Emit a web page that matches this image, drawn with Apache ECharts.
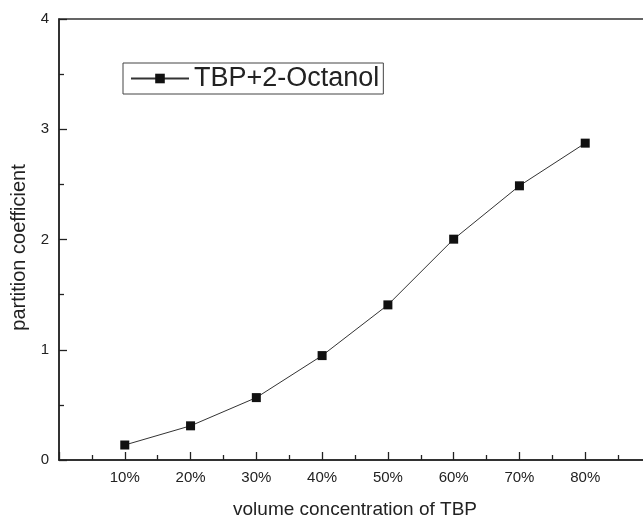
<!DOCTYPE html>
<html>
<head>
<meta charset="utf-8">
<script src="https://cdn.jsdelivr.net/npm/echarts@6/dist/echarts.min.js"></script>
<style>
  html, body { margin: 0; padding: 0; background: #fff; }
  #chart { width: 643px; height: 518px; }
</style>
</head>
<body>
<div id="chart"></div>
<script>
// data
var seriesName = 'TBP+2-Octanol';
var concentration = [10, 20, 30, 40, 50, 60, 70, 80];
var partition = [0.136, 0.31, 0.566, 0.947, 1.407, 2.003, 2.487, 2.874];

var points = concentration.map(function (c, i) { return [c, partition[i]]; });

var chart = echarts.init(document.getElementById('chart'));

var option = {
  animation: false,
  backgroundColor: '#fff',
  textStyle: { fontFamily: 'Liberation Sans, Arial, sans-serif', color: '#222' },
  grid: {
    left: 59,
    top: 19,
    right: -8,
    bottom: 58,
    outerBoundsMode: 'none',
    containLabel: false,
    show: true,
    borderColor: '#333',
    borderWidth: 1.5
  },
  legend: {
    left: 123,
    top: 63,
    padding: [2, 4, 2, 7],
    borderColor: '#444',
    borderWidth: 1,
    itemWidth: 58,
    itemHeight: 12,
    textStyle: { fontSize: 27, color: '#222', fontFamily: 'Liberation Sans, Arial, sans-serif' },
    data: [seriesName]
  },
  xAxis: {
    type: 'value',
    min: 0,
    max: 90,
    interval: 10,
    name: 'volume concentration of TBP',
    nameLocation: 'middle',
    nameGap: 40,
    nameTextStyle: { fontSize: 19, color: '#222' },
    axisLine: { lineStyle: { color: '#222', width: 1.5 } },
    axisTick: { inside: true, length: 8, lineStyle: { color: '#222', width: 1.3 } },
    minorTick: { show: true, splitNumber: 2, length: 5, lineStyle: { color: '#222', width: 1.3 } },
    splitLine: { show: false },
    axisLabel: {
      fontSize: 15,
      color: '#222',
      margin: 10,
      showMinLabel: false,
      showMaxLabel: false,
      formatter: function (v) { return v + '%'; }
    }
  },
  yAxis: {
    type: 'value',
    min: 0,
    max: 4,
    interval: 1,
    name: 'partition coefficient',
    nameLocation: 'middle',
    nameGap: 22,
    nameTextStyle: { fontSize: 20, color: '#222', padding: [0, 16, 0, 0] },
    axisLine: { lineStyle: { color: '#222', width: 1.5 } },
    axisTick: { inside: true, length: 8, lineStyle: { color: '#222', width: 1.3 } },
    minorTick: { show: true, splitNumber: 2, length: 5, lineStyle: { color: '#222', width: 1.3 } },
    splitLine: { show: false },
    axisLabel: { fontSize: 15, color: '#222', margin: 10 }
  },
  series: [{
    name: seriesName,
    type: 'line',
    data: points,
    symbol: 'rect',
    symbolSize: 9,
    lineStyle: { color: '#333', width: 1 },
    itemStyle: { color: '#111' }
  }]
};

chart.setOption(option);
</script>
</body>
</html>
